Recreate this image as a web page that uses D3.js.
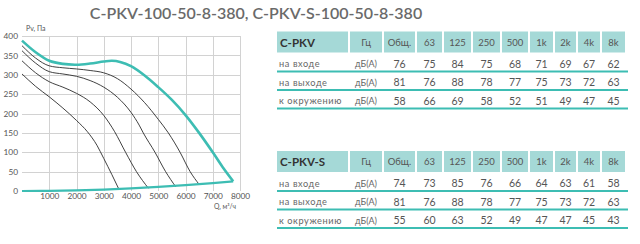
<!DOCTYPE html>
<html>
<head>
<meta charset="utf-8">
<script src="https://cdn.jsdelivr.net/npm/d3@7"></script>
<style>
  html, body { margin: 0; padding: 0; background: #fff; }
  svg { display: block; font-family: Lato, "Noto Sans", sans-serif; }
</style>
</head>
<body>
<div id="chart"></div>
<script>
// Fan curves (Q, m3/h ; Pv, Pa)
const maxCurve = [[0,388],[500,358],[1000,336],[1500,328],[2000,326],[2500,329],[3000,334],[3300,336],[3600,333],[4000,322],[4500,298],[5000,268],[5500,235],[6000,196],[6500,150],[7000,100],[7400,58],[7750,25]];
const systemCurve = [[0,0],[1000,0.5],[2000,1.7],[3000,3.7],[4000,6.6],[5000,10.4],[6000,15],[7000,20.4],[7750,25]];
const speedCurves = [
  [[0,375],[500,343],[1000,323],[1500,318],[2000,315],[2500,311],[3000,305],[3500,290],[4000,263],[4500,228],[5000,185],[5370,150],[5800,100],[6170,50],[6500,17]],
  [[0,362],[500,330],[1000,308],[1500,302],[2000,296],[2500,285],[3000,268],[3500,242],[4000,203],[4300,170],[4450,150],[4880,100],[5270,50],[5640,11]],
  [[0,336],[500,305],[1000,282],[1500,268],[2000,252],[2500,230],[3000,195],[3400,153],[3800,100],[4200,50],[4640,7]],
  [[0,302],[500,270],[1000,243],[1500,214],[2000,182],[2400,153],[2750,118],[3000,84],[3300,42],[3560,4]]
];
const xTicks = [1000,2000,3000,4000,5000,6000,7000,8000];
const yTicks = [0,50,100,150,200,250,300,350,400];

// Noise tables
const title = "C-PKV-100-50-8-380, C-PKV-S-100-50-8-380";
const bands = ["Гц","Общ.","63","125","250","500","1k","2k","4k","8k"];
const rowLabels = ["на входе","на выходе","к окружению"];
const unit = "дБ(А)";
const pkvValues = [[76,75,84,75,68,71,69,67,62],[81,76,88,78,77,75,73,72,63],[58,66,69,58,52,51,49,47,45]];
const pkvSValues = [[74,73,85,76,66,64,63,61,58],[81,76,88,78,77,75,73,72,63],[55,60,63,52,49,47,47,45,43]];

const W = 640, H = 244;
const teal = "#3dbdb3";
const svg = d3.select("#chart").append("svg").attr("width", W).attr("height", H);

svg.append("text")
  .attr("x", 256).attr("y", 13).attr("dy", "0.35em")
  .attr("text-anchor", "middle")
  .attr("font-size", 16).attr("font-weight", 600)
  .attr("fill", "#6a6a6a")
  .text(title);

// ---- chart ----
const x = d3.scaleLinear().domain([0, 8000]).range([22, 240]);
const y = d3.scaleLinear().domain([0, 400]).range([191, 36]);

const grid = svg.append("g").attr("stroke", "#d2d2d2").attr("stroke-width", 1);
grid.selectAll(".h").data(yTicks.filter(d => d > 0)).enter().append("line")
  .attr("x1", x(0)).attr("x2", x(8000))
  .attr("y1", d => Math.round(y(d)) + 0.5).attr("y2", d => Math.round(y(d)) + 0.5);
grid.selectAll(".v").data(xTicks).enter().append("line")
  .attr("y1", y(0)).attr("y2", y(400))
  .attr("x1", d => Math.round(x(d)) + 0.5).attr("x2", d => Math.round(x(d)) + 0.5);

const yAxis = svg.append("g").attr("transform", `translate(${x(0)},0)`)
  .call(d3.axisLeft(y).tickValues(yTicks).tickSize(0).tickPadding(4));
const xAxis = svg.append("g").attr("transform", `translate(0,${y(0)})`)
  .call(d3.axisBottom(x).tickValues(xTicks).tickSize(0).tickPadding(2.5).tickFormat(d3.format("d")));
[yAxis, xAxis].forEach(a => {
  a.select(".domain").remove();
  a.selectAll("text").attr("font-size", 8.3).attr("fill", "#555").attr("font-family", "Lato, sans-serif");
});

svg.append("text").attr("x", 26).attr("y", 31).attr("font-size", 7).attr("fill", "#555").text("Pv, Па");
svg.append("text").attr("x", 225).attr("y", 208.5).attr("text-anchor", "middle")
  .attr("font-size", 6.8).attr("fill", "#555").text("Q, м³/ч");

const line = d3.line().x(d => x(d[0])).y(d => y(d[1])).curve(d3.curveMonotoneX);

svg.append("g").selectAll("path").data(speedCurves).enter().append("path")
  .attr("d", line).attr("fill", "none").attr("stroke", "#2b2b2b").attr("stroke-width", 0.9);

svg.append("path").datum(systemCurve).attr("d", line)
  .attr("fill", "none").attr("stroke", teal).attr("stroke-width", 2.2);
svg.append("path").datum(maxCurve).attr("d", d3.line().x(d => x(d[0])).y(d => y(d[1])).curve(d3.curveCatmullRom))
  .attr("fill", "none").attr("stroke", teal).attr("stroke-width", 2.6).attr("stroke-linejoin", "round");

// ---- tables ----
const colEdges = [277, 349, 383, 416, 443, 472, 501, 529, 554, 577, 601, 626];

function drawTable(top, name, values) {
  const t = svg.append("g").attr("transform", `translate(0,${top})`);
  const headers = [name].concat(bands);
  const cells = t.selectAll("g.hcell").data(headers).enter().append("g");
  cells.append("rect")
    .attr("x", (d, i) => colEdges[i] + (i ? 1 : 0))
    .attr("width", (d, i) => colEdges[i + 1] - colEdges[i] - (i ? 1 : 0) - 1)
    .attr("y", 0).attr("height", 21)
    .attr("fill", "#a5d9d7");
  cells.append("text")
    .attr("x", (d, i) => i ? (colEdges[i] + colEdges[i + 1]) / 2 : colEdges[0] + 3)
    .attr("y", 11).attr("dy", "0.35em")
    .attr("text-anchor", (d, i) => i ? "middle" : "start")
    .attr("font-size", (d, i) => i ? 9.5 : 11.5)
    .attr("font-weight", (d, i) => i ? 400 : 700)
    .attr("fill", (d, i) => i ? "#555" : "#333")
    .text(d => d);

  const rowCenters = [32.5, 51, 69.5];
  const rowLines = [40, 58.5, 77];
  rowLabels.forEach((label, r) => {
    const cy = rowCenters[r];
    t.append("text").attr("x", colEdges[0] + 2).attr("y", cy).attr("dy", "0.35em")
      .attr("font-size", 9.2).attr("letter-spacing", 0.6).attr("fill", "#666").text(label);
    t.append("text").attr("x", (colEdges[1] + colEdges[2]) / 2).attr("y", cy).attr("dy", "0.35em")
      .attr("text-anchor", "middle").attr("font-size", 9).attr("fill", "#666").text(unit);
    t.selectAll(null).data(values[r]).enter().append("text")
      .attr("x", (d, i) => (colEdges[i + 2] + colEdges[i + 3]) / 2)
      .attr("y", cy).attr("dy", "0.35em")
      .attr("text-anchor", "middle").attr("font-size", 10.5).attr("fill", "#555")
      .text(d => d);
    t.append("line").attr("x1", colEdges[0]).attr("x2", colEdges[colEdges.length - 1] + 2)
      .attr("y1", rowLines[r]).attr("y2", rowLines[r])
      .attr("stroke", teal).attr("stroke-width", 2);
  });
}

drawTable(31.5, "C-PKV", pkvValues);
drawTable(151, "C-PKV-S", pkvSValues);
</script>
</body>
</html>
